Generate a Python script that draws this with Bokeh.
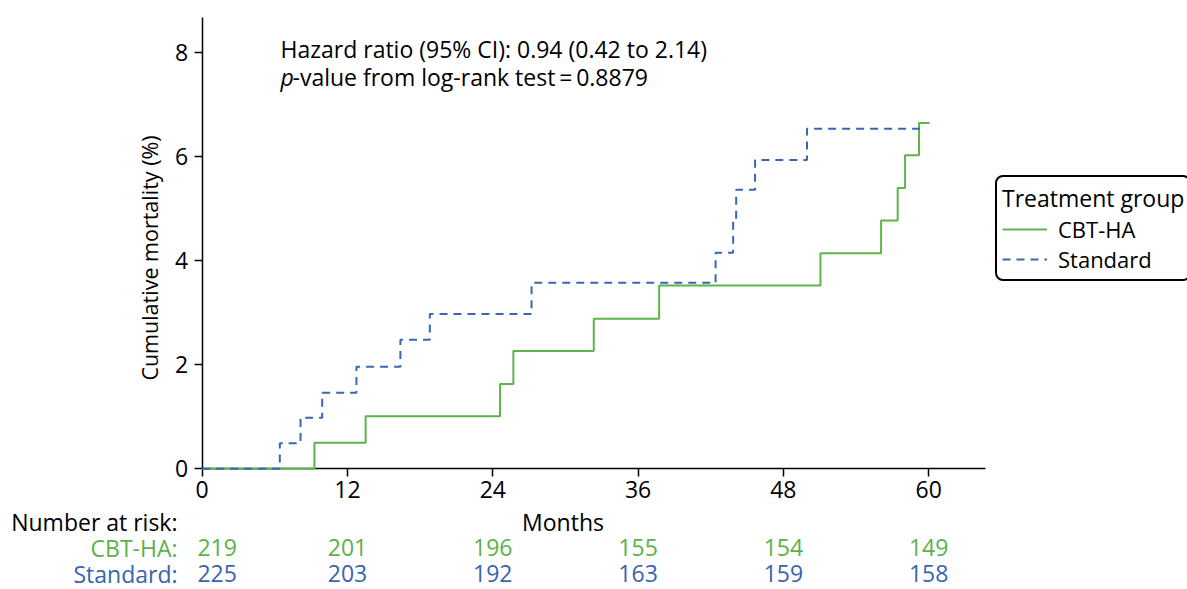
import math
from bokeh.plotting import figure
from bokeh.models import Range1d, FixedTicker, Legend, LegendItem, ColumnDataSource
from bokeh.core.properties import value
from bokeh.embed import file_html
from bokeh.resources import INLINE

# ---------------- data ----------------
cbt_months = [0, 9.27, 13.5, 24.6, 25.7, 32.34, 37.74, 51.06, 56.07, 57.44, 58.05, 59.2, 60.08]
cbt_mort = [0, 0.50, 1.01, 1.63, 2.26, 2.88, 3.52, 4.14, 4.77, 5.39, 6.02, 6.64, 6.64]

std_months = [0, 6.41, 8.12, 9.91, 12.74, 16.37, 18.8, 27.2, 42.4, 43.85, 44.1, 45.66, 49.95, 59.3]
std_mort = [0, 0.49, 0.98, 1.46, 1.96, 2.48, 2.97, 3.57, 4.15, 4.75, 5.36, 5.93, 6.53, 6.53]

x_ticks = [0, 12, 24, 36, 48, 60]
y_ticks = [0, 2, 4, 6, 8]

risk_times = [0, 12, 24, 36, 48, 60]
risk_cbt = [219, 201, 196, 155, 154, 149]
risk_std = [225, 203, 192, 163, 159, 158]

GREEN = "#5db54a"
BLUE = "#3a66b4"
GREEN_TXT = "#5cb14a"
BLUE_TXT = "#3a64ad"
FONT = "Open Sans"
FS = "23px"

# ---------------- layout constants (pixels) ----------------
W, H = 1187, 589
X0PX, PPM = 201.7, 12.108      # x = 0 position, pixels per month
Y0PX, PPU = 468.3, 52.08       # y = 0 position, pixels per percent

def mx(px):
    return (px - X0PX) / PPM

def my(py):
    return (Y0PX - py) / PPU

p = figure(width=W, height=H, x_range=Range1d(mx(0), mx(W)), y_range=Range1d(my(H), my(0)),
           output_backend="svg", toolbar_location=None, title=None,
           min_border_left=0, min_border_right=0, min_border_top=0, min_border_bottom=0)
p.xgrid.visible = False
p.ygrid.visible = False
p.outline_line_color = None
p.background_fill_color = "white"
p.border_fill_color = "white"

p.xaxis.ticker = FixedTicker(ticks=x_ticks)
p.yaxis.ticker = FixedTicker(ticks=y_ticks)
p.xaxis.fixed_location = 0
p.yaxis.fixed_location = 0
p.xaxis.bounds = (0, mx(985))
p.yaxis.bounds = (0, my(17))
for ax in (p.xaxis[0], p.yaxis[0]):
    ax.axis_line_width = 1.5
    ax.axis_line_color = "black"
    ax.major_tick_line_width = 1.5
    ax.major_tick_line_color = "black"
    ax.major_tick_out = 8
    ax.major_tick_in = 0
    ax.minor_tick_out = 0
    ax.minor_tick_in = 0
    ax.minor_tick_line_color = None
    ax.major_label_text_font = FONT
    ax.major_label_text_font_size = FS
    ax.major_label_text_color = "black"
p.xaxis.major_label_standoff = 4
p.yaxis.major_label_standoff = 6

r_cbt = p.step(cbt_months, cbt_mort, mode="after", line_color=GREEN, line_width=2, level="overlay")
r_std = p.step(std_months, std_mort, mode="after", line_color=BLUE, line_width=2,
               line_dash="8 6", level="overlay")

# y axis label
p.text(x=[mx(149)], y=[my(257.5)], text=["Cumulative mortality (%)"], angle=math.pi / 2,
       text_align="center", text_baseline="middle",
       text_font=value(FONT), text_font_size="21.5px", text_color="black")

# annotation text
p.text(x=[mx(280)], y=[my(48)], text=["Hazard ratio (95% CI): 0.94 (0.42 to 2.14)"],
       text_align="left", text_baseline="middle",
       text_font=value(FONT), text_font_size=FS, text_color="black")
p.text(x=[mx(280)], y=[my(76)], text=["p"], text_font_style="italic",
       text_align="left", text_baseline="middle",
       text_font=value(FONT), text_font_size=FS, text_color="black")
p.text(x=[mx(280)], y=[my(76)], x_offset=12, text=["-value from log-rank test\u2009=\u20090.8879"],
       text_align="left", text_baseline="middle",
       text_font=value(FONT), text_font_size=FS, text_color="black")

# legend
LFS = "22px"
legend = Legend(items=[LegendItem(label="CBT-HA", renderers=[r_cbt]),
                       LegendItem(label="Standard", renderers=[r_std])],
                title="Treatment group", location=(995, H - 281))
legend.title_text_font = FONT
legend.title_text_font_size = FS
legend.title_text_font_style = "normal"
legend.title_text_color = "black"
legend.title_standoff = 0
legend.label_text_font = FONT
legend.label_text_font_size = LFS
legend.label_text_color = "black"
legend.glyph_width = 45
legend.label_standoff = 11
legend.label_height = 20
legend.glyph_height = 20
legend.padding = 5
legend.spacing = 0
legend.margin = 0
legend.border_line_color = "black"
legend.border_line_alpha = 1.0
legend.border_line_width = 2
legend.background_fill_alpha = 1.0
if "border_radius" in Legend.properties():
    legend.border_radius = 8
p.add_layout(legend)

# ---------------- number at risk table ----------------
row_head, row_cbt, row_std = my(521), my(547), my(573)
label_x = mx(177)
p.text(x=[label_x], y=[row_head], text=["Number at risk:"], text_align="right", text_baseline="middle",
       text_font=value(FONT), text_font_size=FS, text_color="black")
p.text(x=[label_x], y=[row_cbt], text=["CBT-HA:"], text_align="right", text_baseline="middle",
       text_font=value(FONT), text_font_size=FS, text_color=GREEN_TXT)
p.text(x=[label_x], y=[row_std], text=["Standard:"], text_align="right", text_baseline="middle",
       text_font=value(FONT), text_font_size=FS, text_color=BLUE_TXT)
p.text(x=[29.8], y=[row_head], text=["Months"], text_align="center", text_baseline="middle",
       text_font=value(FONT), text_font_size=FS, text_color="black")

offs = [15, 0, 0, 0, 0, 0]
src_cbt = ColumnDataSource(dict(x=risk_times, y=[row_cbt] * len(risk_times),
                                t=[str(v) for v in risk_cbt], o=offs))
src_std = ColumnDataSource(dict(x=risk_times, y=[row_std] * len(risk_times),
                                t=[str(v) for v in risk_std], o=offs))
p.text(x="x", y="y", text="t", x_offset="o", source=src_cbt, text_align="center",
       text_baseline="middle", text_font=value(FONT), text_font_size=FS, text_color=GREEN_TXT)
p.text(x="x", y="y", text="t", x_offset="o", source=src_std, text_align="center",
       text_baseline="middle", text_font=value(FONT), text_font_size=FS, text_color=BLUE_TXT)

open("out.html", "w").write(file_html(p, INLINE))
